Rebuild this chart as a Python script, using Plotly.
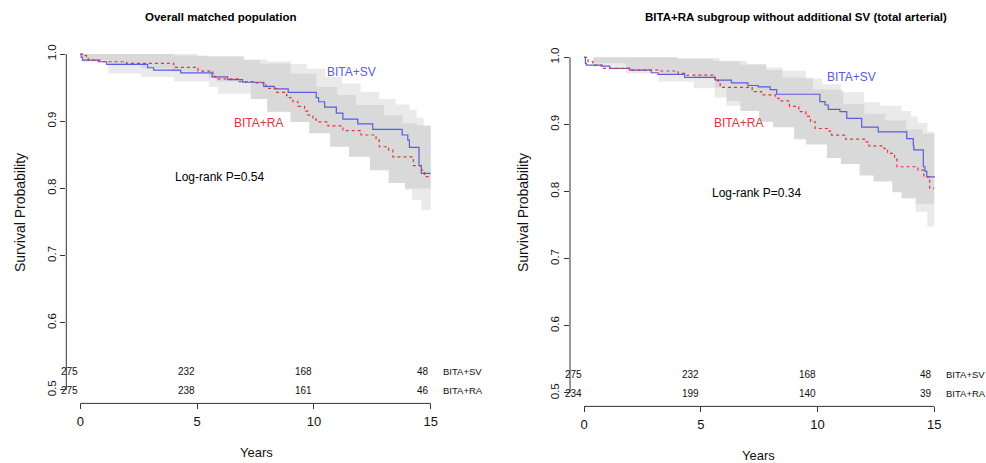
import plotly.graph_objects as go

# ---------------- data: left panel (Overall matched population) ----------------
L_SV_T = [0, 0.04, 0.09, 0.77, 1.13, 2.88, 3.14, 4.30, 5.64, 6.31, 6.95, 7.85, 8.30, 8.90,
          10.10, 10.20, 10.46, 10.96, 11.24, 11.88, 12.52, 13.78, 14.02, 14.09, 14.50, 14.60, 15.0]
L_SV_S = [1.0, 0.995, 0.991, 0.9885, 0.9847, 0.9796, 0.976, 0.972, 0.966, 0.962, 0.958, 0.952, 0.948, 0.943,
          0.935, 0.929, 0.921, 0.912, 0.903, 0.896, 0.888, 0.8795, 0.872, 0.861, 0.834, 0.8225, 0.8225]
L_RA_T = [0, 0.10, 0.27, 0.34, 0.84, 1.98, 4.00, 4.98, 5.04, 5.68, 5.76, 5.90, 6.75, 7.40, 7.95, 8.40,
          8.83, 8.95, 9.10, 9.32, 9.60, 9.75, 9.96, 10.10, 10.60, 11.24, 12.02, 12.66, 12.80, 13.20,
          13.38, 14.26, 14.60, 14.73, 15.0]
L_RA_S = [1.0, 0.9975, 0.9945, 0.991, 0.9885, 0.986, 0.980, 0.9787, 0.9747, 0.969, 0.966, 0.963, 0.9588, 0.957, 0.949, 0.943,
          0.938, 0.935, 0.929, 0.922, 0.915, 0.909, 0.903, 0.899, 0.893, 0.886, 0.8795, 0.872, 0.862, 0.857,
          0.847, 0.834, 0.8274, 0.8175, 0.8175]
# confidence bands
L_SV_HI_T = [0, 4, 5.5, 7, 8, 9, 9.7, 10.5, 11.2, 12, 12.8, 13.5, 14.1, 14.4, 14.7, 15]
L_SV_HI = [1.0, 0.998, 0.996, 0.992, 0.989, 0.985, 0.978, 0.966, 0.956, 0.944, 0.933, 0.925, 0.917, 0.905, 0.893, 0.889]
L_SV_LO_T = [0, 0.06, 1.2, 2.6, 4.0, 5.5, 5.9, 7.3, 8.0, 9.0, 9.8, 10.7, 11.5, 12.4, 13.2, 13.9, 14.2, 15]
L_SV_LO = [1.0, 0.9885, 0.971, 0.966, 0.959, 0.951, 0.941, 0.933, 0.914, 0.899, 0.882, 0.862, 0.847, 0.827, 0.808, 0.800, 0.800, 0.800]
L_RA_HI_T = [0, 5, 7, 7.7, 9, 10.1, 11, 11.8, 13, 13.8, 14.4, 15]
L_RA_HI = [1.0, 0.997, 0.991, 0.986, 0.971, 0.951, 0.939, 0.924, 0.909, 0.897, 0.894, 0.890]
L_RA_LO_T = [0, 0.06, 1.2, 2.6, 3.9, 5.5, 5.8, 7.3, 8.0, 9.0, 9.8, 10.7, 11.5, 12.4, 13.2, 13.9, 14.2, 14.6, 15]
L_RA_LO = [1.0, 0.991, 0.9836, 0.979, 0.974, 0.964, 0.959, 0.933, 0.914, 0.899, 0.882, 0.862, 0.847, 0.827, 0.808, 0.798, 0.783, 0.768, 0.758]

# ---------------- data: right panel (total arterial subgroup) ----------------
R_SV_T = [0, 0.06, 0.10, 0.74, 1.10, 1.96, 2.88, 3.17, 4.31, 5.62, 6.31, 7.02, 7.46, 7.97, 8.25,
          10.10, 10.32, 10.46, 10.96, 11.25, 11.89, 12.60, 13.82, 14.10, 14.12, 14.53, 14.60, 14.68, 15.0]
R_SV_S = [1.0, 0.991, 0.9885, 0.987, 0.9836, 0.981, 0.977, 0.9747, 0.970, 0.966, 0.962, 0.958, 0.956, 0.952, 0.945,
          0.934, 0.929, 0.9225, 0.919, 0.909, 0.896, 0.889, 0.879, 0.869, 0.862, 0.837, 0.830, 0.822, 0.821]
R_RA_T = [0, 0.17, 0.38, 0.77, 2.02, 3.17, 4.03, 4.31, 5.60, 5.75, 5.83, 7.20, 7.60, 8.20, 8.35, 8.80,
          9.20, 9.50, 9.70, 9.90, 10.50, 10.60, 11.20, 12.05, 12.20, 12.85, 13.00, 13.30, 13.40, 14.30,
          14.55, 14.80, 15.0]
R_RA_S = [1.0, 0.9935, 0.9885, 0.9836, 0.981, 0.9796, 0.976, 0.9736, 0.966, 0.961, 0.9553, 0.949, 0.944, 0.939, 0.935, 0.927,
          0.919, 0.912, 0.904, 0.894, 0.890, 0.884, 0.878, 0.874, 0.868, 0.864, 0.857, 0.848, 0.837, 0.832,
          0.822, 0.805, 0.805]
R_SV_HI_T = [0, 4, 5.8, 6.7, 7.8, 8.5, 9.5, 10.2, 11.0, 12.0, 12.7, 13.6, 14.0, 14.3, 14.7, 15]
R_SV_HI = [1.0, 0.999, 0.994, 0.989, 0.985, 0.980, 0.968, 0.960, 0.948, 0.933, 0.928, 0.920, 0.912, 0.902, 0.889, 0.886]
R_SV_LO_T = [0, 0.4, 1.8, 3.2, 4.7, 5.6, 6.1, 6.7, 7.5, 8.1, 9.0, 9.5, 10.4, 11.0, 11.8, 12.4, 13.2, 13.6, 14.2, 15]
R_SV_LO = [1.0, 0.991, 0.981, 0.976, 0.969, 0.955, 0.935, 0.920, 0.904, 0.896, 0.878, 0.870, 0.850, 0.841, 0.824, 0.815, 0.799, 0.790, 0.782, 0.782]
R_RA_HI_T = [0, 4, 5.5, 7, 7.8, 8.5, 9.8, 11.1, 12.0, 12.9, 13.8, 14.5, 15]
R_RA_HI = [1.0, 0.998, 0.995, 0.990, 0.981, 0.970, 0.952, 0.930, 0.916, 0.906, 0.893, 0.886, 0.883]
R_RA_LO_T = [0, 0.4, 1.8, 3.2, 4.7, 5.6, 6.1, 6.7, 7.5, 8.1, 9.0, 9.5, 10.4, 11.0, 11.8, 12.4, 13.2, 13.6, 14.2, 14.7, 15]
R_RA_LO = [1.0, 0.986, 0.976, 0.964, 0.954, 0.940, 0.928, 0.920, 0.904, 0.896, 0.878, 0.870, 0.850, 0.841, 0.824, 0.815, 0.799, 0.790, 0.770, 0.748, 0.738]

# ---------------- numbers at risk ----------------
RISK_TIMES = [0, 5, 10, 15]
L_RISK_SV = [275, 232, 168, 48]
L_RISK_RA = [275, 238, 161, 46]
R_RISK_SV = [275, 232, 168, 48]
R_RISK_RA = [234, 199, 140, 39]

GROUPS = ["BITA+SV", "BITA+RA"]
TITLES = ["Overall matched population", "BITA+RA subgroup without additional SV (total arterial)"]
PVALS = ["Log-rank P=0.54", "Log-rank P=0.34"]
X_TICKS = [0, 5, 10, 15]
Y_TICKS = [0.5, 0.6, 0.7, 0.8, 0.9, 1.0]

# ---------------- style ----------------
FONT = "Liberation Sans, Arial, sans-serif"
BLUE = "#5b5be3"
RED = "#e0363c"
BAND = "rgba(150,150,150,0.20)"
AXC = "#333333"
W, H = 986, 463


def px(x):
    return x / W


def py(y):
    return 1 - y / H


fig = go.Figure()

panels = [
    dict(xa="x", ya="y", sv=(L_SV_T, L_SV_S), ra=(L_RA_T, L_RA_S),
         bands=[(L_SV_LO_T, L_SV_LO, L_SV_HI_T, L_SV_HI), (L_RA_LO_T, L_RA_LO, L_RA_HI_T, L_RA_HI)],
         risk=(L_RISK_SV, L_RISK_RA),
         sv_lab=(11.6, 0.9737), ra_lab=(7.64, 0.898), p_lab=(5.97, 0.8174)),
    dict(xa="x2", ya="y2", sv=(R_SV_T, R_SV_S), ra=(R_RA_T, R_RA_S),
         bands=[(R_SV_LO_T, R_SV_LO, R_SV_HI_T, R_SV_HI), (R_RA_LO_T, R_RA_LO, R_RA_HI_T, R_RA_HI)],
         risk=(R_RISK_SV, R_RISK_RA),
         sv_lab=(11.46, 0.970), ra_lab=(6.61, 0.9026), p_lab=(7.4, 0.7983)),
]

annotations = []
shapes = []


def ann(**kw):
    base = dict(showarrow=False, xanchor="center", yanchor="middle")
    base.update(kw)
    annotations.append(base)


for i, p in enumerate(panels):
    xa, ya = p["xa"], p["ya"]
    for lo_t, lo_v, hi_t, hi_v in p["bands"]:
        fig.add_trace(go.Scatter(x=lo_t, y=lo_v, mode="lines", line=dict(width=0, shape="hv"),
                                 xaxis=xa, yaxis=ya, showlegend=False, hoverinfo="skip"))
        fig.add_trace(go.Scatter(x=hi_t, y=hi_v, mode="lines", line=dict(width=0, shape="hv"),
                                 fill="tonexty", fillcolor=BAND,
                                 xaxis=xa, yaxis=ya, showlegend=False, hoverinfo="skip"))
    fig.add_trace(go.Scatter(x=p["sv"][0], y=p["sv"][1], mode="lines", name=GROUPS[0],
                             line=dict(color=BLUE, width=1.2, shape="hv"),
                             xaxis=xa, yaxis=ya, showlegend=False))
    fig.add_trace(go.Scatter(x=p["ra"][0], y=p["ra"][1], mode="lines", name=GROUPS[1],
                             line=dict(color=RED, width=1.2, shape="hv", dash="dot"),
                             xaxis=xa, yaxis=ya, showlegend=False))

    # in-plot labels
    ann(x=p["sv_lab"][0], y=p["sv_lab"][1], xref=xa, yref=ya, text=GROUPS[0],
        font=dict(family=FONT, size=12, color=BLUE))
    ann(x=p["ra_lab"][0], y=p["ra_lab"][1], xref=xa, yref=ya, text=GROUPS[1],
        font=dict(family=FONT, size=12, color=RED))
    ann(x=p["p_lab"][0], y=p["p_lab"][1], xref=xa, yref=ya, text=PVALS[i],
        font=dict(family=FONT, size=12, color="#000"))
    # risk table
    for row, (vals, yv) in enumerate(zip(p["risk"], [0.5272, 0.4990])):
        for t, n in zip(RISK_TIMES, vals):
            ann(x=t, y=yv, xref=xa, yref=ya, text=str(n), xanchor="right",
                font=dict(family=FONT, size=10, color="#111"))
        ann(x=15.42, y=yv, xref=xa, yref=ya, text=GROUPS[row], xanchor="left",
            font=dict(family=FONT, size=9.5, color="#111"))
    # axis lines (R style, spanning first to last tick)
    shapes.append(dict(type="line", xref=xa, yref=f"{ya} domain", x0=X_TICKS[0], x1=X_TICKS[-1], y0=0, y1=0,
                       line=dict(color=AXC, width=1)))
    shapes.append(dict(type="line", xref=f"{xa} domain", yref=ya, x0=0, x1=0, y0=Y_TICKS[0], y1=Y_TICKS[-1],
                       line=dict(color=AXC, width=1)))

# titles & axis titles
ann(x=px(220), y=py(17), xref="paper", yref="paper", text=f"<b>{TITLES[0]}</b>",
    font=dict(family=FONT, size=11.5, color="#000"))
ann(x=px(796), y=py(17), xref="paper", yref="paper", text=f"<b>{TITLES[1]}</b>",
    font=dict(family=FONT, size=11.5, color="#000"))
ann(x=px(20), y=py(213), xref="paper", yref="paper", text="Survival Probability", textangle=-90,
    font=dict(family=FONT, size=14, color="#111"))
ann(x=px(523), y=py(213), xref="paper", yref="paper", text="Survival Probability", textangle=-90,
    font=dict(family=FONT, size=14, color="#111"))
ann(x=px(256), y=py(452), xref="paper", yref="paper", text="Years",
    font=dict(family=FONT, size=13, color="#111"))
ann(x=px(758), y=py(455), xref="paper", yref="paper", text="Years",
    font=dict(family=FONT, size=13, color="#111"))

xax = dict(range=[-0.6, 15.6], tickvals=X_TICKS, ticks="outside", ticklen=5, tickcolor=AXC,
           showgrid=False, zeroline=False, showline=False, ticklabelstandoff=1,
           tickfont=dict(family=FONT, size=13, color="#111"))
yax = dict(range=[0.48, 1.02], tickvals=Y_TICKS, ticktext=[f"{v:.1f}" for v in Y_TICKS],
           ticks="outside", ticklen=5, tickcolor=AXC, tickangle=-90,
           showgrid=False, zeroline=False, showline=False, ticklabelstandoff=0,
           tickfont=dict(family=FONT, size=11.5, color="#111"))

fig.update_layout(
    width=W, height=H, margin=dict(l=0, r=0, t=0, b=0),
    paper_bgcolor="white", plot_bgcolor="white", showlegend=False,
    xaxis=dict(xax, domain=[px(66.3), px(444.7)], anchor="y"),
    yaxis=dict(yax, domain=[py(403.4), py(40.6)], anchor="x"),
    xaxis2=dict(xax, domain=[px(570), px(948.3)], anchor="y2"),
    yaxis2=dict(yax, domain=[py(406.4), py(43.9)], anchor="x2"),
    annotations=annotations, shapes=shapes,
)

# remove the default 8px page margin so the 986x463 figure fills the window exactly
fig.write_html("out.html", config={"displayModeBar": False},
               post_script="document.body.style.margin='0px';document.body.style.overflow='hidden';")
